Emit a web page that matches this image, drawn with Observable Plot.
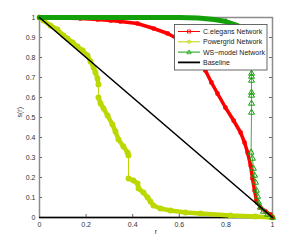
<!DOCTYPE html>
<html><head><meta charset="utf-8">
<script src="https://cdn.jsdelivr.net/npm/d3@7"></script>
<script src="https://cdn.jsdelivr.net/npm/@observablehq/plot@0.6"></script>
<style>
body{margin:0;background:#fff;}
#wrap{position:relative;width:300px;height:245px;font-family:"Liberation Sans",Arial,sans-serif;}
#legend{position:absolute;left:174px;top:24px;}
</style></head><body>
<div id="wrap"><div id="chart"></div><div id="legend"></div></div>
<script>
const xTicks = [0, 0.2, 0.4, 0.6, 0.8, 1];
const yTicks = [0, 0.1, 0.2, 0.3, 0.4, 0.5, 0.6, 0.7, 0.8, 0.9, 1];
const seriesNames = ["C.elegans Network", "Powergrid Network", "WS\u2212model Network", "Baseline"];
const seriesColors = ["#ff0000", "#bcd800", "#14a00a", "#000000"];

const celegansR = [0, 0.08, 0.176, 0.25, 0.305, 0.348, 0.42, 0.49, 0.55, 0.605, 0.648, 0.682, 0.712, 0.738, 0.764, 0.798, 0.833, 0.863, 0.88, 0.893, 0.906, 0.914, 0.923, 0.931, 0.948, 0.97, 0.991, 1];
const celegansS = [1, 0.998, 0.995, 0.99, 0.985, 0.98, 0.97, 0.945, 0.92, 0.885, 0.835, 0.785, 0.735, 0.675, 0.62, 0.55, 0.485, 0.425, 0.375, 0.325, 0.26, 0.195, 0.135, 0.085, 0.05, 0.03, 0.015, 0];

const powerR = [0, 0.017, 0.047, 0.077, 0.103, 0.12, 0.142, 0.163, 0.185, 0.206, 0.219, 0.232, 0.24, 0.249, 0.253, 0.253, 0.262, 0.275, 0.292, 0.313, 0.326, 0.339, 0.36, 0.378, 0.382, 0.382, 0.403, 0.421, 0.425, 0.446, 0.464, 0.476, 0.489, 0.519, 0.562, 0.627, 0.691, 0.82, 0.927, 1];
const powerS = [1, 0.985, 0.96, 0.94, 0.91, 0.895, 0.875, 0.855, 0.835, 0.81, 0.78, 0.75, 0.725, 0.695, 0.665, 0.6, 0.57, 0.545, 0.51, 0.465, 0.43, 0.39, 0.355, 0.325, 0.31, 0.195, 0.185, 0.17, 0.145, 0.125, 0.1, 0.08, 0.06, 0.045, 0.035, 0.025, 0.02, 0.01, 0.005, 0];

const wsR = [0, 0.3, 0.6, 0.68, 0.75, 0.8, 0.85, 0.88, 0.9, 0.91, 0.91, 0.91, 0.91, 0.91, 0.91, 0.91, 0.91, 0.908, 0.914, 0.918, 0.923, 0.927, 0.931, 0.936, 0.94, 0.948, 0.961, 0.979, 1];
const wsS = [1, 1, 1, 0.997, 0.99, 0.98, 0.96, 0.93, 0.88, 0.8, 0.72, 0.705, 0.685, 0.625, 0.61, 0.57, 0.525, 0.325, 0.295, 0.245, 0.21, 0.175, 0.135, 0.105, 0.075, 0.05, 0.03, 0.015, 0];

const baseR = [0, 1];
const baseS = [1, 0];

function table(R, S) {
  let seg = 0;
  return R.map((r, i) => {
    if (i > 0 && Math.abs(S[i] - S[i-1]) > 0.05) seg++;
    return {r, s: S[i], seg};
  });
}
const cel = table(celegansR, celegansS);
const pow = table(powerR, powerS);
const ws = table(wsR, wsS);
const base = table(baseR, baseS);

const plotH = 245 - 17 - 28, plotW = 300 - 39 - 28;

const chart = Plot.plot({
  width: 300, height: 245,
  marginLeft: 39, marginRight: 28, marginTop: 17, marginBottom: 28,
  x: {domain: [0, 1]},
  y: {domain: [0, 1]},
  style: {fontFamily: '"Liberation Sans", Arial, sans-serif', fontSize: "7px", color: "#333", background: "#fff", overflow: "visible"},
  marks: [
    Plot.axisX({ticks: xTicks, tickSize: 0, tickPadding: 5, tickFormat: d => String(d), label: null}),
    Plot.axisY({ticks: yTicks, tickSize: 0, tickPadding: 4, tickFormat: d => String(d), label: null}),
    Plot.tickX(xTicks, {x: d => d, insetTop: plotH - 3, stroke: "#666"}),
    Plot.tickX(xTicks, {x: d => d, insetBottom: plotH - 3, stroke: "#666"}),
    Plot.tickY(yTicks, {y: d => d, insetLeft: plotW - 3, stroke: "#666"}),
    Plot.tickY(yTicks, {y: d => d, insetRight: plotW - 3, stroke: "#666"}),
    Plot.frame({stroke: "#8c8c8c", strokeWidth: 1.5}),
    Plot.ruleY([0], {stroke: "#000", strokeWidth: 1.5}),
    Plot.text(["r"], {frameAnchor: "bottom", dy: 16, fill: "#333"}),
    Plot.text(["s(r)"], {frameAnchor: "left", dx: -20, rotate: -90, fill: "#333"}),
    // Powergrid
    Plot.line(pow, {x: "r", y: "s", stroke: seriesColors[1], strokeWidth: 1}),
    Plot.line(pow, {x: "r", y: "s", z: "seg", stroke: seriesColors[1], strokeWidth: 4.5}),
    Plot.dot(pow, {x: "r", y: "s", r: 2.2, fill: seriesColors[1], stroke: seriesColors[1]}),
    // C.elegans
    Plot.line(cel, {x: "r", y: "s", stroke: seriesColors[0], strokeWidth: 3.5}),
    Plot.dot(cel, {x: "r", y: "s", symbol: "square", r: 1.8, fill: seriesColors[0], stroke: seriesColors[0], strokeWidth: 1}),
    // WS
    Plot.line(ws, {x: "r", y: "s", stroke: "#44b044", strokeWidth: 1}),
    Plot.line(ws.filter(d => d.s >= 0.95), {x: "r", y: "s", stroke: seriesColors[2], strokeWidth: 5}),
    Plot.dot(ws.filter(d => d.s < 0.95), {x: "r", y: "s", symbol: "triangle", r: 2.2, fill: "none", stroke: seriesColors[2], strokeWidth: 1}),
    // Baseline
    Plot.line(base, {x: "r", y: "s", stroke: seriesColors[3], strokeWidth: 1.6})
  ]
});
document.getElementById("chart").appendChild(chart);

// Legend
const lg = d3.select("#legend").append("svg").attr("width", 94).attr("height", 47);
lg.append("rect").attr("x", 0.5).attr("y", 0.5).attr("width", 92.5).attr("height", 45.5)
  .attr("fill", "#fff").attr("stroke", "#444").attr("stroke-width", 0.8);
const markers = ["square", "circle", "triangle", null];
seriesNames.forEach((name, i) => {
  const y = 7.5 + i * 10.3;
  const g = lg.append("g");
  g.append("line").attr("x1", 4).attr("x2", 26).attr("y1", y).attr("y2", y)
    .attr("stroke", seriesColors[i]).attr("stroke-width", i === 3 ? 1.8 : 1);
  if (markers[i] === "square") g.append("rect").attr("x", 13.5).attr("y", y - 1.5).attr("width", 3).attr("height", 3).attr("fill", "none").attr("stroke", seriesColors[i]).attr("stroke-width", 0.8);
  if (markers[i] === "circle") g.append("circle").attr("cx", 15).attr("cy", y).attr("r", 1.6).attr("fill", "none").attr("stroke", seriesColors[i]).attr("stroke-width", 0.8);
  if (markers[i] === "triangle") g.append("path").attr("d", `M15,${y-2.2}L17.2,${y+1.6}L12.8,${y+1.6}Z`).attr("fill", "none").attr("stroke", seriesColors[i]).attr("stroke-width", 0.8);
  g.append("text").attr("x", 29).attr("y", y).attr("dy", "0.35em")
    .attr("font-size", "7px").attr("fill", "#222").attr("font-family", '"Liberation Sans", Arial, sans-serif').text(name);
});
</script>
</body></html>
